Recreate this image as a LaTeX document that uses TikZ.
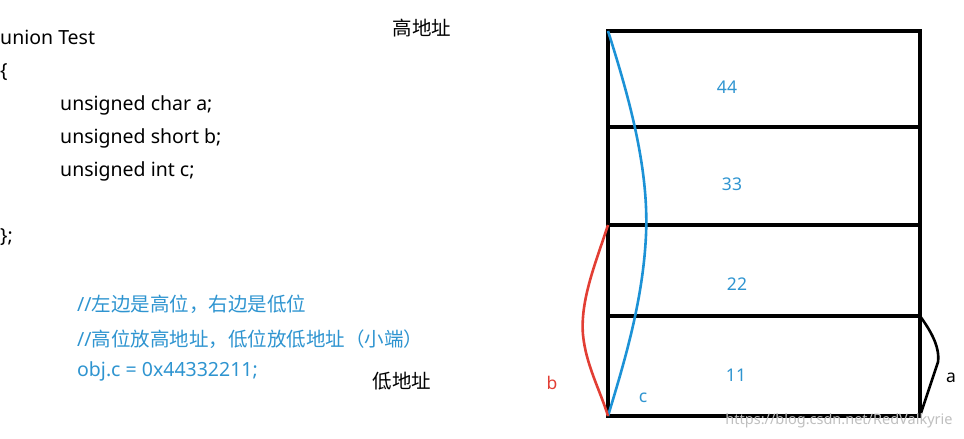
\documentclass[tikz,border=0pt]{standalone}
\usepackage{fontspec}
\setmainfont{Noto Sans}
\newfontfamily\cjk{Noto Sans CJK SC}
\definecolor{codeblue}{RGB}{46,148,208}
\definecolor{lineblue}{RGB}{28,146,214}
\definecolor{linered}{RGB}{226,62,52}
\tikzset{
    code/.style ={anchor=base west, inner sep=0pt, font=\fontsize{19.5}{22}\selectfont},
    note/.style ={code, text=codeblue},
    byte/.style ={inner sep=0pt, text=codeblue, font=\fontsize{17.5}{20}\selectfont},
    cell/.style ={rectangle, draw=black, line width=3.2pt, minimum width=312pt, inner sep=0pt, outer sep=0pt},
    member/.style ={line width=2.6pt}
}

\begin{document}
\begin{tikzpicture}[x=1pt,y=-1pt]
        \useasboundingbox (0,0) rectangle (964,439);
        % code on the left
        \node[code] (u1) at (0,44) {union Test};
        \node[code] (u2) at (0,77) {\{};
        \node[code] (u3) at (60,110) {unsigned char a;};
        \node[code] (u4) at (60,143) {unsigned short b;};
        \node[code] (u5) at (60,176) {unsigned int c;};
        \node[code] (u6) at (0,242) {\};};
        \node[note] (n1) at (77,311) {//{\cjk 左边是高位，右边是低位}};
        \node[note] (n2) at (77,346) {//{\cjk 高位放高地址，低位放低地址（小端）}};
        \node[note] (n3) at (77,376) {obj.c = 0x44332211;};
        \node[code,anchor=center] (hi) at (422,28) {\cjk 高地址};
        \node[code,anchor=center] (lo) at (402,381) {\cjk 低地址};
        % memory cells
        \node[cell, minimum height=96pt, anchor=north west] (c4) at (608,31) {};
        \node[cell, minimum height=98pt, anchor=north west] (c3) at (c4.south west) {};
        \node[cell, minimum height=91pt, anchor=north west] (c2) at (c3.south west) {};
        \node[cell, minimum height=100pt, anchor=north west] (c1) at (c2.south west) {};
        \node[byte] (b4) at (727,87) {44};
        \node[byte] (b3) at (732,184) {33};
        \node[byte] (b2) at (737,284) {22};
        \node[byte] (b1) at (736,375) {11};
        % members
        \draw[member,lineblue] (c4.north west) .. controls (630,100) and (649,170) .. (646,235)
            .. controls (643,300) and (625,360) .. (c1.south west);
        \draw[member,linered] (c2.north west) .. controls (596,262) and (580,300) .. (583,335)
            .. controls (586,365) and (600,390) .. (c1.south west);
        \draw[member,black] (c1.north east) .. controls (930,330) and (940,346) .. (938,362)
            -- (c1.south east);
        \node[byte,text=linered] (lb) at (552,383) {b};
        \node[byte] (lc) at (643,398) {c};
        \node[byte,text=black] (la) at (951,378) {a};
        \node[inner sep=0pt, text=black!25, font=\fontsize{14.5}{16}\selectfont] (wm) at (839,421) {https://blog.csdn.net/RedValkyrie};
    \end{tikzpicture}
\end{document}
